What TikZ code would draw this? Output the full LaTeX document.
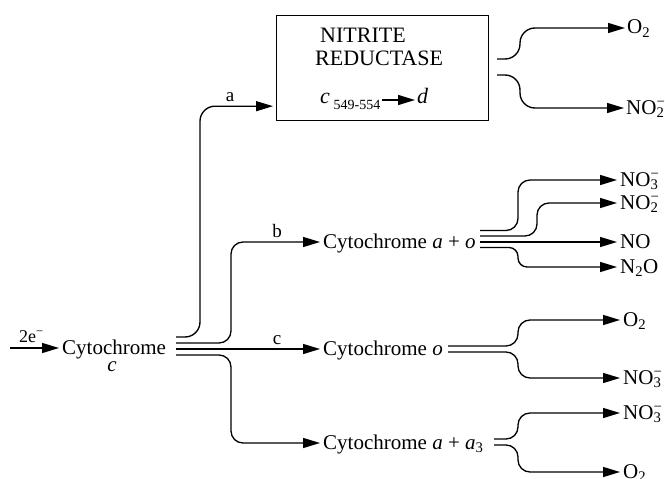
\documentclass[tikz,border=0pt]{standalone}
\usepackage{fontspec}
\setmainfont{Liberation Serif}
\usetikzlibrary{arrows.meta}
% ion with stacked charge and count, e.g. NO_3^-
\newcommand\ionsub[2]{\rlap{\textsuperscript{#2}}\textsubscript{#1}}

\begin{document}
\begin{tikzpicture}[x=1pt,y=-1pt,
  txt/.style={inner sep=0pt, font=\fontsize{21}{21}\selectfont,
              text height=15pt, text depth=3pt, anchor=west},
  boxtxt/.style={inner sep=0pt, font=\fontsize{22}{22}\selectfont, anchor=base west},
  tag/.style={inner sep=0pt, font=\fontsize{19}{19}\selectfont},
  flow/.style={line width=1.35pt, rounded corners=12pt,
               -{Triangle[length=17pt,width=10pt]}, shorten >=3pt},
  tight/.style={rounded corners=9pt},
  soft/.style={rounded corners=15pt}]

\useasboundingbox (0,0) rectangle (665,479);

% ---- source: cytochrome c ----
\node[txt] (cytc) at (62,348) {Cytochrome};
\node[inner sep=0pt, font=\fontsize{21}{21}\selectfont\itshape, anchor=base] (cytcsub) at (112,371) {c};
\node[inner sep=0pt, font=\fontsize{18}{18}\selectfont, anchor=base west] (elec) at (19,342) {2e\textsuperscript{−}};
\coordinate (ein) at (10,348);
\draw[flow] (ein) -- (ein -| cytc.west);

% ---- nitrite reductase box ----
\node[draw, line width=1.35pt, minimum width=212pt, minimum height=105pt,
      inner sep=0pt, anchor=north west] (box) at (276,15) {};
\node[boxtxt] (nit) at (320,42) {NITRITE};
\node[boxtxt] (red) at (315,65) {REDUCTASE};
\node[inner sep=0pt, anchor=base west, font=\fontsize{22}{22}\selectfont] (cs) at (320,103)
  {\textit{c}\,\raisebox{-6pt}{\fontsize{14}{14}\selectfont 549-554}};
\node[inner sep=0pt, anchor=base west, font=\fontsize{22}{22}\selectfont\itshape] (dd) at (417,103) {d};
\draw[flow, shorten >=2pt] ([xshift=2pt,yshift=3pt]cs.base east) -- ([yshift=3pt]dd.base west);

% ---- acceptor cytochromes ----
\node[txt] (ao) at (323,242) {Cytochrome \textit{a} + \textit{o}};
\node[txt] (co) at (323,349) {Cytochrome \textit{o}};
\node[txt] (aa) at (323,443) {Cytochrome \textit{a} + \textit{a}\textsubscript{3}};

% ---- branches out of cytochrome c ----
\coordinate (ca) at (176,337);
\coordinate (cb) at (176,343);
\coordinate (cc) at (176,349);
\coordinate (cd) at (176,355);
\draw[flow, soft] (ca) -- ++(24,0) |- ([yshift=-38pt]box.west);
\draw[flow] (cb) -- ++(55,0) |- (ao.west);
\draw[flow] (cc) -- (co.west);
\draw[flow] (cd) -- ++(55,0) |- (aa.west);
\node[tag] (la) at (230,97) {a};
\node[tag] (lb) at (277,231) {b};
\node[tag] (lc) at (277,340) {c};

% ---- products of nitrite reductase ----
\node[txt] (r1) at (627,28) {O\textsubscript{2}};
\node[txt] (r2) at (626,108) {NO\ionsub{2}{−}};
\coordinate (b1) at (497,59);
\coordinate (b2) at (497,75);
\draw[flow, soft, shorten >=2pt] (b1) -- ++(23,0) |- (r1.west);
\draw[flow, soft, shorten >=2pt] (b2) -- ++(23,0) |- (r2.west);

% ---- products of cytochrome a + o ----
\node[txt] (p1) at (620,180) {NO\ionsub{3}{−}};
\node[txt] (p2) at (620,203) {NO\ionsub{2}{−}};
\node[txt] (p3) at (620,242) {NO};
\node[txt] (p4) at (620,267) {N\textsubscript{2}O};
\coordinate (ao1) at (480,230.5);
\coordinate (ao2) at (480,236);
\coordinate (ao3) at (480,242);
\coordinate (ao4) at (480,247.5);
\draw[flow] (ao1) -- ++(38,0) |- (p1.west);
\draw[flow] (ao2) -- ++(57,0) |- (p2.west);
\draw[flow] (ao3) -- (p3.west);
\draw[flow, tight] (ao4) -- ++(38,0) |- (p4.west);

% ---- products of cytochrome o ----
\node[txt] (q1) at (623,320) {O\textsubscript{2}};
\node[txt] (q2) at (623,378) {NO\ionsub{3}{−}};
\coordinate (co1) at (448,346);
\coordinate (co2) at (448,352);
\draw[flow] (co1) -- ++(70,0) |- (q1.west);
\draw[flow] (co2) -- ++(70,0) |- (q2.west);

% ---- products of cytochrome a + a3 ----
\node[txt] (s1) at (623,413) {NO\ionsub{3}{−}};
\node[txt] (s2) at (623,472) {O\textsubscript{2}};
\coordinate (aa1) at (494,439);
\coordinate (aa2) at (494,445);
\draw[flow] (aa1) -- ++(24,0) |- (s1.west);
\draw[flow] (aa2) -- ++(24,0) |- (s2.west);
\end{tikzpicture}
\end{document}
